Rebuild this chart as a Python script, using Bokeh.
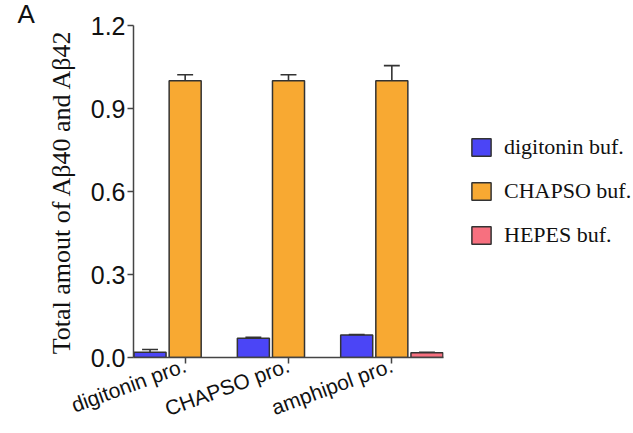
from bokeh.plotting import figure
from bokeh.layouts import row
from bokeh.models import (FactorRange, Range1d, ColumnDataSource, Legend, LegendItem,
                          Title, FixedTicker, NumeralTickFormatter)
from bokeh.transform import dodge
from bokeh.embed import file_html
from bokeh.resources import INLINE

categories = ["digitonin pro.", "CHAPSO pro.", "amphipol pro."]
series = ["digitonin buf.", "CHAPSO buf.", "HEPES buf."]
digitonin_buf = [0.019, 0.070, 0.081]
digitonin_err = [0.010, 0.003, 0.002]
chapso_buf = [1.0, 1.0, 1.0]
chapso_err = [0.022, 0.022, 0.055]
hepes_buf = [0.0, 0.0, 0.017]
hepes_err = [0.0, 0.0, 0.002]
y_ticks = [0.0, 0.3, 0.6, 0.9, 1.2]
colors = ["#4b45f6", "#f8a932", "#f7707f"]

p = figure(x_range=FactorRange(*categories, range_padding=0), y_range=Range1d(0, 1.2),
           width=445, height=433, output_backend="svg", toolbar_location=None,
           min_border_left=133, min_border_right=2, min_border_top=0, min_border_bottom=60)

# legend panel (separate figure placed to the right)
p2 = figure(width=188, height=433, output_backend="svg", toolbar_location=None,
            x_range=Range1d(0, 1), y_range=Range1d(0, 1),
            min_border_left=0, min_border_right=0, min_border_top=0, min_border_bottom=0)
p2.axis.visible = False
p2.grid.visible = False
p2.outline_line_color = None

all_vals = [digitonin_buf, chapso_buf, hepes_buf]
all_errs = [digitonin_err, chapso_err, hepes_err]
items = []
for i, (vals, errs) in enumerate(zip(all_vals, all_errs)):
    off = (i - 1) * 0.34
    cats = [c for c, v in zip(categories, vals) if v > 0]
    vv = [v for v in vals if v > 0]
    ee = [e for v, e in zip(vals, errs) if v > 0]
    src = ColumnDataSource(dict(cat=cats, val=vv, up=[v + e for v, e in zip(vv, ee)]))
    p.vbar(x=dodge('cat', off, range=p.x_range), top='val', bottom=0, width=0.31, source=src,
           fill_color=colors[i], line_color="#333333", line_width=1.5)
    p.segment(x0=dodge('cat', off, range=p.x_range), y0='val', x1=dodge('cat', off, range=p.x_range),
              y1='up', source=src, line_color="#333333", line_width=1.6)
    p.segment(x0=dodge('cat', off - 0.077, range=p.x_range), y0='up',
              x1=dodge('cat', off + 0.077, range=p.x_range), y1='up', source=src,
              line_color="#333333", line_width=1.6)
    # hidden copy of the series in the legend panel, used only for the legend key
    rk = p2.vbar(x=list(range(len(vals))), top=vals, width=0.3, fill_color=colors[i],
                 line_color="#333333", line_width=1.5, visible=False)
    items.append(LegendItem(label=series[i], renderers=[rk]))

legend = Legend(items=items, location=(24, 109), glyph_width=24, glyph_height=22, spacing=18,
                padding=0, margin=0, label_standoff=11, label_text_font="Liberation Serif",
                label_text_font_size="22px", label_text_color="#111111",
                inactive_fill_alpha=0, click_policy="none",
                border_line_color=None, background_fill_alpha=0)
p2.add_layout(legend, 'center')

p.add_layout(Title(text="A", align="left", offset=-116, standoff=-7,
                   text_font="Liberation Sans", text_font_size="26px",
                   text_font_style="normal", text_color="#111111"), 'above')

p.xgrid.visible = False
p.ygrid.visible = False
p.outline_line_color = None

ya = p.yaxis[0]
ya.ticker = FixedTicker(ticks=y_ticks)
ya.formatter = NumeralTickFormatter(format="0.0")
ya.major_label_text_font = "Liberation Sans"
ya.major_label_text_font_size = "25px"
ya.major_label_text_color = "#111111"
ya.major_label_standoff = 2
ya.axis_line_width = 1.5
ya.axis_line_color = "#444444"
ya.major_tick_line_color = "#444444"
ya.major_tick_line_width = 1.5
ya.major_tick_out = 6
ya.major_tick_in = 0
ya.minor_tick_line_color = None
ya.axis_label = "Total amout of Aβ40 and Aβ42"
ya.axis_label_text_font = "Liberation Serif"
ya.axis_label_text_font_style = "normal"
ya.axis_label_text_font_size = "26px"
ya.axis_label_text_color = "#111111"
ya.axis_label_standoff = 12

xa = p.xaxis[0]
xa.major_label_orientation = 0.35
xa.major_label_text_font = "Liberation Sans"
xa.major_label_text_font_size = "21px"
xa.major_label_text_color = "#111111"
xa.major_label_standoff = 1
xa.axis_line_width = 1.5
xa.axis_line_color = "#444444"
xa.major_tick_line_color = "#444444"
xa.major_tick_line_width = 1.5
xa.major_tick_out = 6
xa.major_tick_in = 0
xa.minor_tick_line_color = None

layout = row(p, p2)
open("out.html", "w").write(file_html(layout, INLINE))
